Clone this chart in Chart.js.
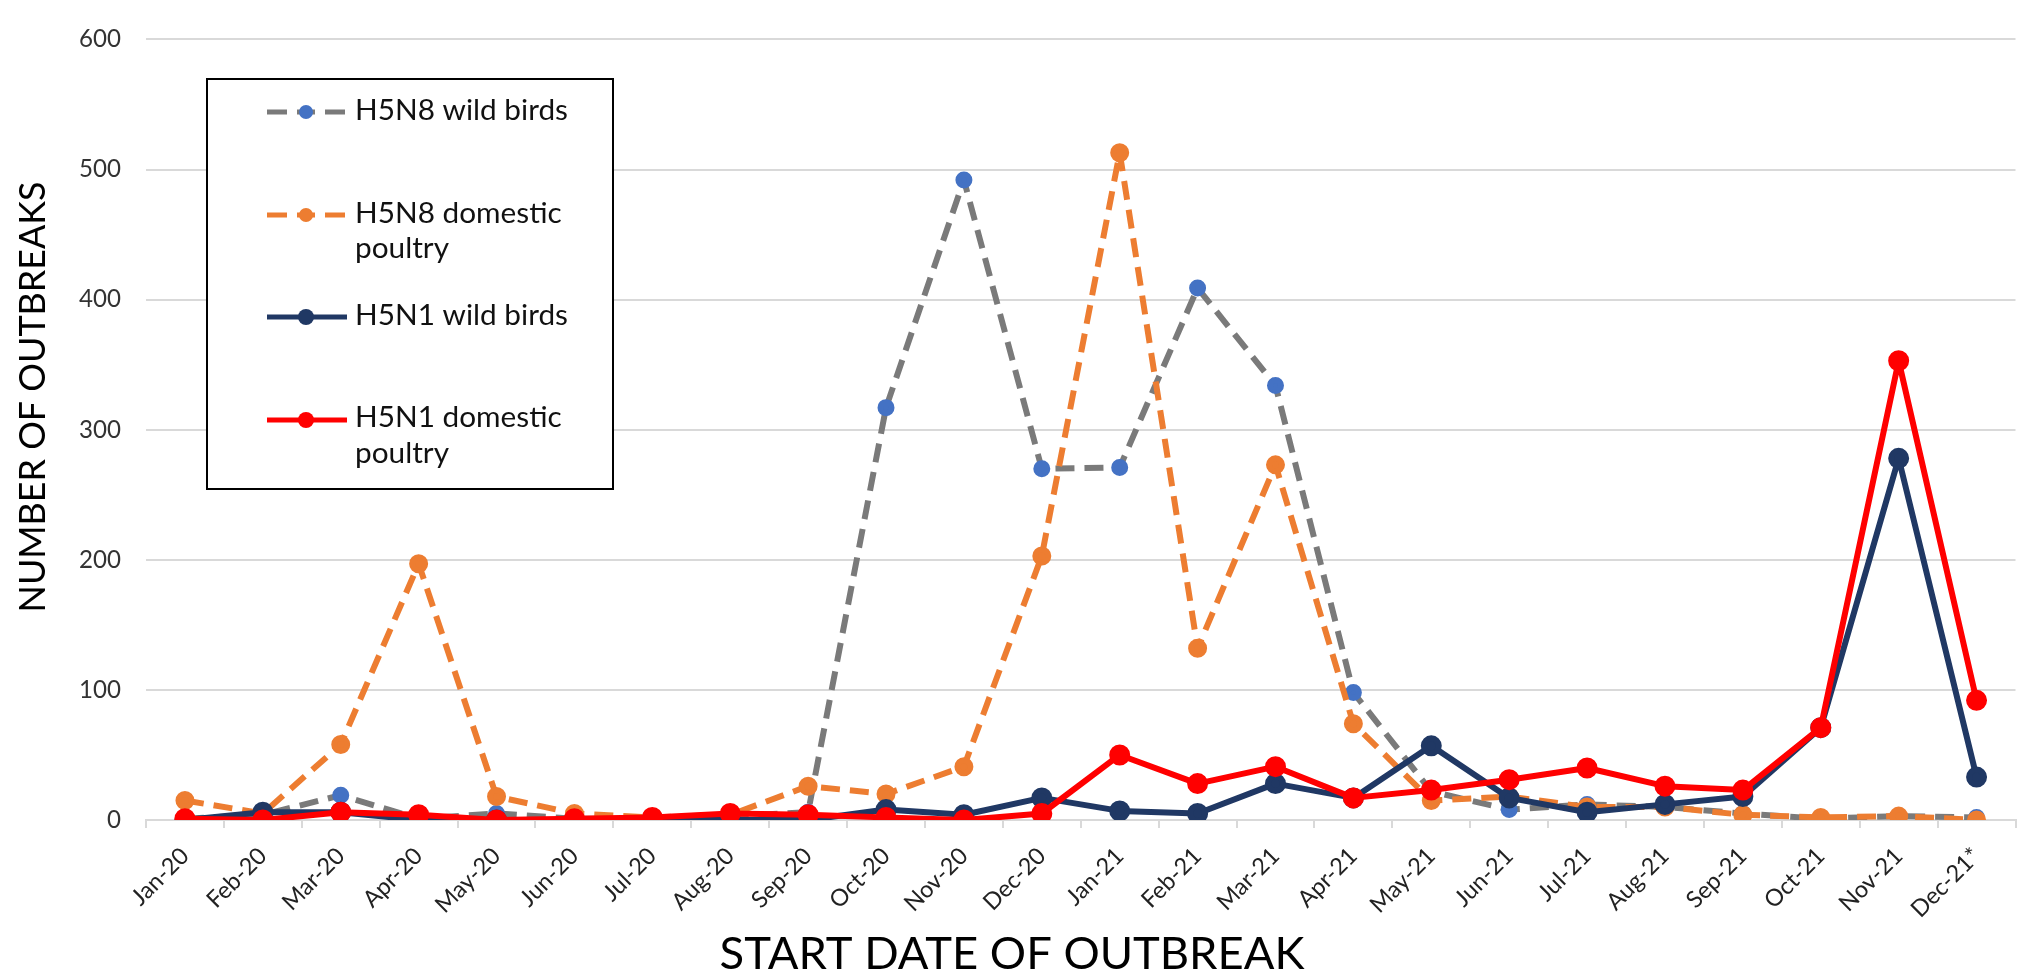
<!DOCTYPE html>
<html><head><meta charset="utf-8">
<script src="https://cdn.jsdelivr.net/npm/chart.js@4.4.1/dist/chart.umd.min.js"></script>
<style>html,body{margin:0;padding:0;background:#fff;}canvas{display:block;}</style>
</head><body>
<canvas id="c" width="2029" height="976"></canvas>
<script>
const categories = ['Jan-20','Feb-20','Mar-20','Apr-20','May-20','Jun-20','Jul-20','Aug-20','Sep-20','Oct-20','Nov-20','Dec-20',
  'Jan-21','Feb-21','Mar-21','Apr-21','May-21','Jun-21','Jul-21','Aug-21','Sep-21','Oct-21','Nov-21','Dec-21*'];
const h5n8Wild     = [1, 4, 19, 1, 5, 1, 1, 3, 6, 317, 492, 270, 271, 409, 334, 98, 22, 8, 12, 10, 5, 1, 3, 2];
const h5n8Domestic = [15, 5, 58, 197, 18, 5, 2, 4, 26, 20, 41, 203, 513, 132, 273, 74, 15, 18, 10, 10, 4, 2, 3, 0];
const h5n1Wild     = [0, 6, 6, 0, 0, 0, 1, 0, 0, 8, 4, 17, 7, 5, 28, 17, 57, 17, 6, 12, 18, 71, 278, 33];
const h5n1Domestic = [1, 0, 6, 4, 0, 1, 2, 5, 4, 2, 0, 5, 50, 28, 41, 17, 23, 31, 40, 26, 23, 71, 353, 92];
const yTickValues  = [0, 100, 200, 300, 400, 500, 600];
const seriesNames  = ['H5N8 wild birds', 'H5N8 domestic poultry', 'H5N1 wild birds', 'H5N1 domestic poultry'];
const legendLines  = [['H5N8 wild birds'], ['H5N8 domestic', 'poultry'], ['H5N1 wild birds'], ['H5N1 domestic', 'poultry']];
const yTitle = 'NUMBER OF OUTBREAKS';
const xTitle = 'START DATE OF OUTBREAK';

const FONT = 'Lato, "Open Sans", sans-serif';
const mctx = document.createElement('canvas').getContext('2d');
function fitSize(text, target) {
  mctx.font = '100px ' + FONT;
  return 100 * target / mctx.measureText(text).width;
}
const yTickSize = fitSize('400', 42);
const xTickSize = fitSize('Mar-20', 77);
const legendSize = fitSize('H5N8 wild birds', 213);
const yTitleSize = fitSize(yTitle, 431);
const xTitleSize = fitSize(xTitle, 585);

const GRAY = '#7a7a7a', BLUE = '#4472c4', ORANGE = '#ed7d31', NAVY = '#203864', RED = '#ff0000';
const DASH = [19, 10];

const overlay = {
  id: 'overlay',
  afterDraw(chart) {
    const ctx = chart.ctx;
    ctx.save();
    ctx.fillStyle = '#000';
    ctx.textAlign = 'center';
    ctx.textBaseline = 'alphabetic';
    ctx.font = xTitleSize + 'px ' + FONT;
    ctx.fillText(xTitle, 1012, 953 + 0.36 * xTitleSize);
    ctx.save();
    ctx.translate(32.5 + 0.36 * yTitleSize, 397);
    ctx.rotate(-Math.PI / 2);
    ctx.font = yTitleSize + 'px ' + FONT;
    ctx.fillText(yTitle, 0, 0);
    ctx.restore();

    ctx.fillStyle = '#fff';
    ctx.fillRect(207, 79, 406, 410);
    ctx.strokeStyle = '#000';
    ctx.lineWidth = 2;
    ctx.strokeRect(207, 79, 406, 410);

    const rows = [
      {y: 112, base: [120], color: GRAY, marker: BLUE, dashed: true},
      {y: 215, base: [223, 258], color: ORANGE, marker: ORANGE, dashed: true},
      {y: 317, base: [325], color: NAVY, marker: NAVY, dashed: false},
      {y: 420, base: [427, 463], color: RED, marker: RED, dashed: false}
    ];
    rows.forEach((r, i) => {
      ctx.strokeStyle = r.color;
      ctx.lineWidth = 5;
      ctx.lineCap = 'butt';
      ctx.beginPath();
      if (r.dashed) {
        ctx.moveTo(267, r.y); ctx.lineTo(287, r.y);
        ctx.moveTo(297, r.y); ctx.lineTo(315, r.y);
        ctx.moveTo(325, r.y); ctx.lineTo(345, r.y);
      } else {
        ctx.moveTo(267, r.y); ctx.lineTo(347, r.y);
      }
      ctx.stroke();
      ctx.fillStyle = r.marker;
      ctx.beginPath();
      ctx.arc(306, r.y, r.dashed ? 7 : 8, 0, Math.PI * 2);
      ctx.fill();
      ctx.fillStyle = '#111';
      ctx.textAlign = 'left';
      ctx.font = legendSize + 'px ' + FONT;
      legendLines[i].forEach((t, j) => ctx.fillText(t, 355, r.base[j]));
    });
    ctx.restore();
  }
};

new Chart(document.getElementById('c'), {
  type: 'line',
  data: {
    labels: categories,
    datasets: [
      {label: seriesNames[3], data: h5n1Domestic, borderColor: RED, backgroundColor: RED,
       pointBackgroundColor: RED, pointBorderColor: RED, pointRadius: 7.5, borderWidth: 6, order: 1},
      {label: seriesNames[2], data: h5n1Wild, borderColor: NAVY, backgroundColor: NAVY,
       pointBackgroundColor: NAVY, pointBorderColor: NAVY, pointRadius: 7.5, borderWidth: 6, order: 2},
      {label: seriesNames[1], data: h5n8Domestic, borderColor: ORANGE, backgroundColor: ORANGE, borderDash: DASH,
       pointBackgroundColor: ORANGE, pointBorderColor: ORANGE, pointRadius: 6.5, borderWidth: 6, order: 3},
      {label: seriesNames[0], data: h5n8Wild, borderColor: GRAY, backgroundColor: BLUE, borderDash: DASH,
       pointBackgroundColor: BLUE, pointBorderColor: BLUE, pointRadius: 5.5, borderWidth: 6, order: 4}
    ]
  },
  options: {
    responsive: false,
    animation: false,
    events: [],
    layout: {padding: {top: 19, left: 0, right: 0, bottom: 0}},
    plugins: {legend: {display: false}, tooltip: {enabled: false}, title: {display: false}},
    elements: {line: {tension: 0, borderJoinStyle: 'round'}, point: {borderWidth: 0}},
    scales: {
      x: {
        offset: true,
        grid: {offset: true, drawOnChartArea: false, drawTicks: true, tickLength: 8, color: '#d9d9d9', lineWidth: 2},
        border: {display: true, color: '#d9d9d9', width: 2},
        ticks: {minRotation: 45, maxRotation: 45, autoSkip: false, padding: 14, color: '#222',
                font: {family: FONT, size: xTickSize}},
        afterFit(scale) { scale.height = 976 - 820; }
      },
      y: {
        min: 0, max: 600,
        afterBuildTicks(scale) { scale.ticks = yTickValues.map(v => ({value: v})); },
        grid: {drawTicks: false, color: '#d9d9d9', lineWidth: 2},
        border: {display: false},
        ticks: {padding: 25, color: '#333', font: {family: FONT, size: yTickSize}},
        afterFit(scale) { scale.width = 146; }
      }
    }
  },
  plugins: [overlay]
});
</script>
</body></html>
